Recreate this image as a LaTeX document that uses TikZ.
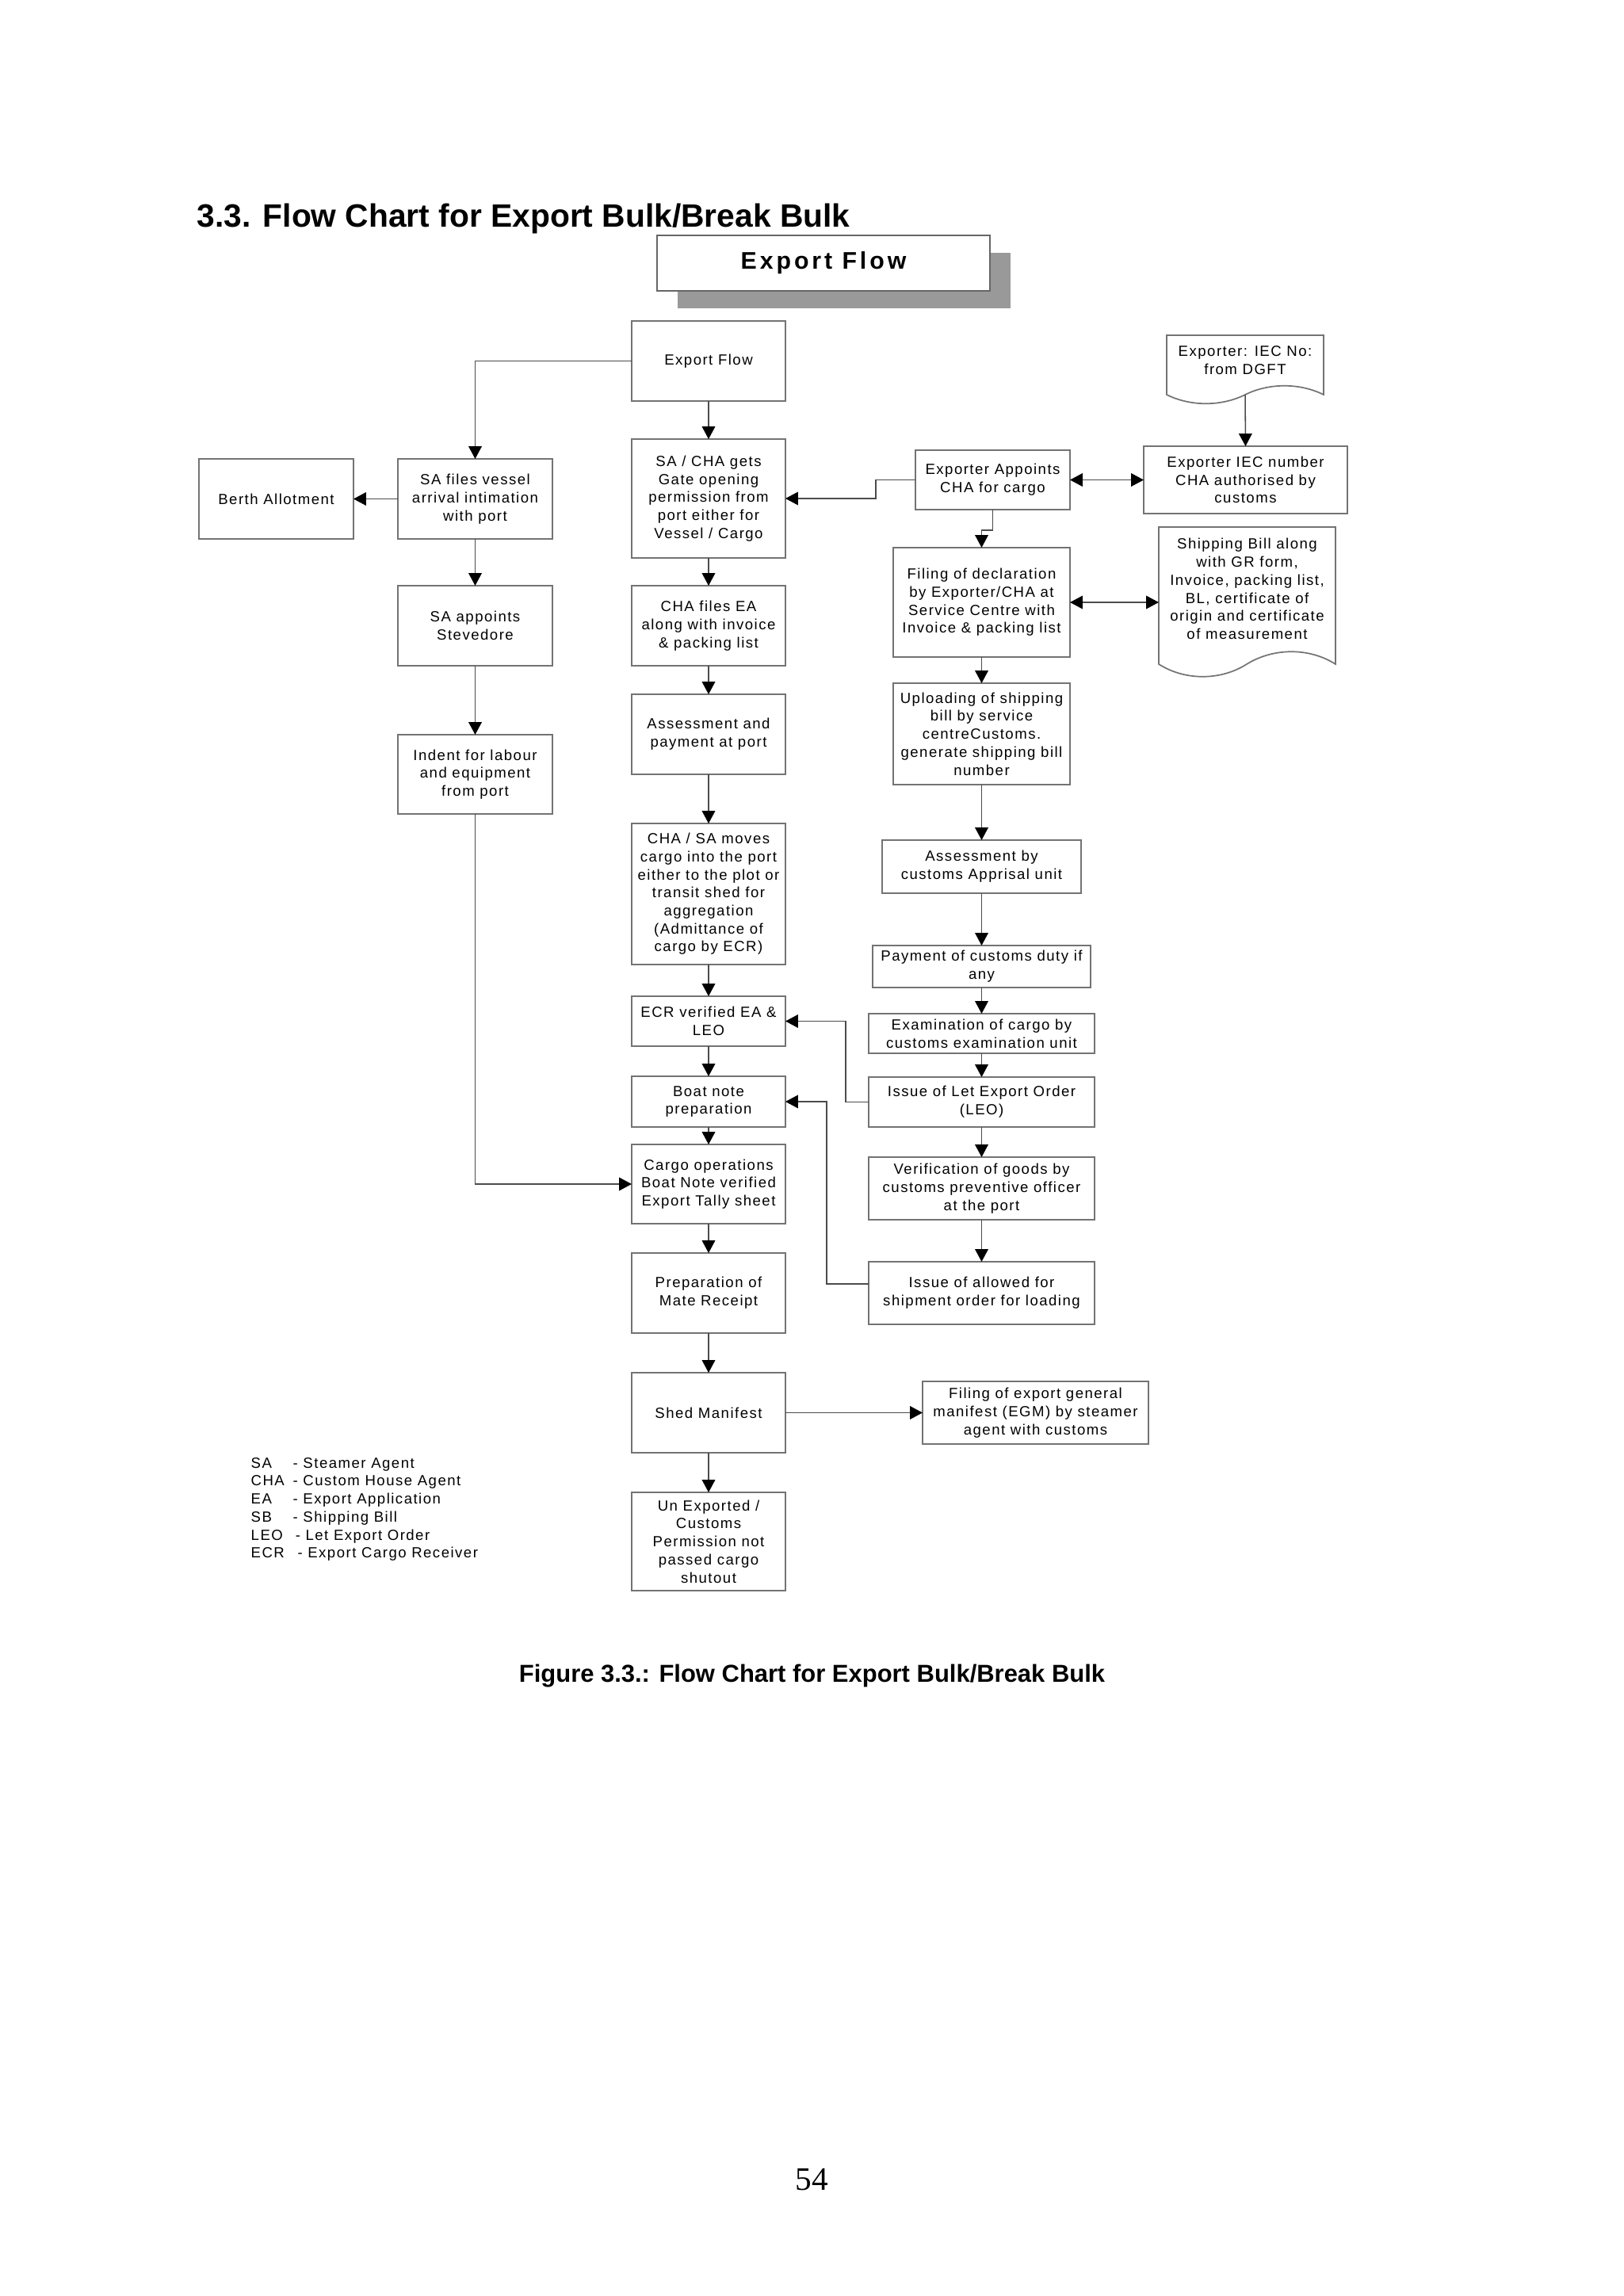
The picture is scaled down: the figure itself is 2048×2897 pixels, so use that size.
\documentclass[tikz,border=0pt]{standalone}
\usepackage{fontspec}
\setmainfont{Liberation Sans}
\newfontfamily\bxfont[LetterSpace=8]{Liberation Sans}
\newfontfamily\bnfont[LetterSpace=13]{Liberation Sans}
\newfontfamily\pgnumfont{Liberation Serif}
\usetikzlibrary{arrows.meta,shadows}
% #1 name, #2 style, (#3,#4) top-left, (#5,#6) bottom-right in px, #7 text
\newcommand\pxnode[7]{%
  \node[#2, minimum width={(#5-#3)*0.29066pt}, minimum height={(#6-#4)*0.29066pt}]
    (#1) at ({(#3+#5)/2},{(#4+#6)/2}) {#7};}
\begin{document}
\begin{tikzpicture}[x=0.29066pt, y=-0.29066pt,
  box/.style={draw=black!55, line width=0.5pt, inner sep=0pt, outer sep=0pt, align=center,
    font=\bxfont\fontsize{5.4}{6.6}\selectfont},
  doctext/.style={inner sep=0pt, outer sep=0pt, align=center, font=\bxfont\fontsize{5.4}{6.6}\selectfont},
  banner/.style={draw=black!60, line width=0.6pt, fill=white, inner sep=0pt,
    drop shadow={shadow xshift=7.5pt, shadow yshift=-6.4pt, fill=black!40, opacity=1},
    font=\bnfont\fontsize{8.8}{10}\selectfont\bfseries},
  docline/.style={draw=black!55, line width=0.5pt},
  ln/.style={draw=black!70, line width=0.45pt},
  tip/.style={Triangle[width=4.8pt,length=4.6pt,fill=black]},
  arr/.style={ln, -{Triangle[width=4.8pt,length=4.6pt,color=black]}},
  dbl/.style={ln, {Triangle[width=4.8pt,length=4.6pt,color=black]}-{Triangle[width=4.8pt,length=4.6pt,color=black]}}
]
\useasboundingbox (0,0) rectangle (2048,2897);

% headings
\node[anchor=base west, inner sep=0pt, font=\fontsize{11.85}{14}\selectfont\bfseries] (title) at (248,286) {3.3. Flow Chart for Export Bulk/Break Bulk};
\pxnode{banner}{banner}{829}{297}{1249}{367}{Export Flow}

% centre column
\pxnode{ef}{box}{797}{405}{991}{506}{Export Flow}
\pxnode{sac}{box}{797}{554}{991}{704}{SA / CHA gets\\Gate opening\\permission from\\port either for\\Vessel / Cargo}
\pxnode{chaea}{box}{797}{739}{991}{840}{CHA files EA\\along with invoice\\\& packing list}
\pxnode{asp}{box}{797}{876}{991}{977}{Assessment and\\payment at port}
\pxnode{mov}{box}{797}{1039}{991}{1217}{CHA / SA moves\\cargo into the port\\either to the plot or\\transit shed for\\aggregation\\(Admittance of\\cargo by ECR)}
\pxnode{ecr}{box}{797}{1257}{991}{1320}{ECR verified EA \&\\LEO}
\pxnode{boat}{box}{797}{1358}{991}{1422}{Boat note\\preparation}
\pxnode{cop}{box}{797}{1444}{991}{1544}{Cargo operations\\Boat Note verified\\Export Tally sheet}
\pxnode{mate}{box}{797}{1581}{991}{1682}{Preparation of\\Mate Receipt}
\pxnode{shed}{box}{797}{1732}{991}{1833}{Shed Manifest}
\pxnode{unx}{box}{797}{1883}{991}{2007}{Un Exported /\\Customs\\Permission not\\passed cargo\\shutout}

% left column
\pxnode{sav}{box}{502}{579}{697}{680}{SA files vessel\\arrival intimation\\with port}
\pxnode{berth}{box}{251}{579}{446}{680}{Berth Allotment}
\pxnode{stev}{box}{502}{739}{697}{840}{SA appoints\\Stevedore}
\pxnode{ind}{box}{502}{927}{697}{1027}{Indent for labour\\and equipment\\from port}

% right column
\pxnode{iecdoc}{doctext}{1472}{423}{1670}{486}{Exporter: IEC No:\\from DGFT}
\draw[docline] (1472,423) -- (1472,498) .. controls (1502,513) and (1541,513) .. (1571,498)
  .. controls (1601,483) and (1640,483) .. (1670,498) -- (1670,423) -- cycle;
\coordinate (iecb) at (1571,498);
\pxnode{iec}{box}{1443}{563}{1700}{648}{Exporter IEC number\\CHA authorised by\\customs}
\pxnode{app}{box}{1155}{568}{1350}{643}{Exporter Appoints\\CHA for cargo}
\pxnode{fil}{box}{1127}{691}{1350}{829}{Filing of declaration\\by Exporter/CHA at\\Service Centre with\\Invoice \& packing list}
\pxnode{sbdoc}{doctext}{1462}{665}{1685}{821}{Shipping Bill along\\with GR form,\\Invoice, packing list,\\BL, certificate of\\origin and certificate\\of measurement}
\draw[docline] (1462,665) -- (1462,838) .. controls (1495,859) and (1540,859) .. (1573,838)
  .. controls (1607,817) and (1652,817) .. (1685,838) -- (1685,665) -- cycle;
\pxnode{upl}{box}{1127}{862}{1350}{990}{Uploading of shipping\\bill by service\\centreCustoms.\\generate shipping bill\\number}
\pxnode{asc}{box}{1113}{1060}{1364}{1127}{Assessment by\\customs Apprisal unit}
\pxnode{pay}{box}{1101}{1193}{1376}{1246}{Payment of customs duty if\\any}
\pxnode{exam}{box}{1096}{1279}{1381}{1329}{Examination of cargo by\\customs examination unit}
\pxnode{leo}{box}{1096}{1359}{1381}{1422}{Issue of Let Export Order\\(LEO)}
\pxnode{ver}{box}{1096}{1460}{1381}{1539}{Verification of goods by\\customs preventive officer\\at the port}
\pxnode{iao}{box}{1096}{1592}{1381}{1671}{Issue of allowed for\\shipment order for loading}
\pxnode{egm}{box}{1164}{1743}{1449}{1822}{Filing of export general\\manifest (EGM) by steamer\\agent with customs}

% legend and captions
\node[anchor=north west, inner sep=0pt, align=left, font=\bxfont\fontsize{5.4}{6.6}\selectfont] (legend) at (316,1838.5)
  {\makebox[15.4pt][l]{SA}- Steamer Agent\\
   \makebox[15.4pt][l]{CHA}- Custom House Agent\\
   \makebox[15.4pt][l]{EA}- Export Application\\
   \makebox[15.4pt][l]{SB}- Shipping Bill\\
   \makebox[16.3pt][l]{LEO}- Let Export Order\\
   \makebox[17.1pt][l]{ECR}- Export Cargo Receiver};
\node[anchor=base, inner sep=0pt, font=\fontsize{9}{11}\selectfont\bfseries] (caption) at (1024.5,2122) {Figure 3.3.: Flow Chart for Export Bulk/Break Bulk};
\node[anchor=base, inner sep=0pt, font=\pgnumfont\fontsize{12}{14}\selectfont] (pagenum) at (1024,2763) {54};

% connectors: centre
\draw[arr] (ef.west) -| (sav.north);
\draw[arr] (ef) -- (sac);
\draw[arr] (sac) -- (chaea);
\draw[arr] (chaea) -- (asp);
\draw[arr] (asp) -- (mov);
\draw[arr] (mov) -- (ecr);
\draw[arr] (ecr) -- (boat);
\draw[arr] (boat) -- (cop);
\draw[arr] (cop) -- (mate);
\draw[arr] (mate) -- (shed);
\draw[arr] (shed) -- (unx);
\draw[arr] (shed.east) -- (shed.east -| egm.west);
% left
\draw[arr] (sav) -- (berth);
\draw[arr] (sav) -- (stev);
\draw[arr] (stev) -- (ind);
\draw[arr] (ind.south) |- (cop.west);
% right
\draw[arr] (iecb) -- (iec.north);
\draw[dbl] (app.east) -- (iec.west);
\draw[arr] (app.west) -- ++(-50,0) |- (sac.east);
\draw[arr] (app.south) -- ++(0,26) -| (fil.north);
\draw[dbl] (fil.east) -- (fil.east -| sbdoc.west);
\draw[arr] (fil) -- (upl);
\draw[arr] (upl) -- (asc);
\draw[arr] (asc) -- (pay);
\draw[arr] (pay) -- (exam);
\draw[arr] (exam) -- (leo);
\draw[arr] (leo) -- (ver);
\draw[arr] (ver) -- (iao);
\draw[arr] (leo.west) -- ++(-29,0) |- (ecr.east);
\draw[arr] ([yshift=3.3pt]iao.west) -- ++(-53,0) |- (boat.east);
\end{tikzpicture}
\end{document}
